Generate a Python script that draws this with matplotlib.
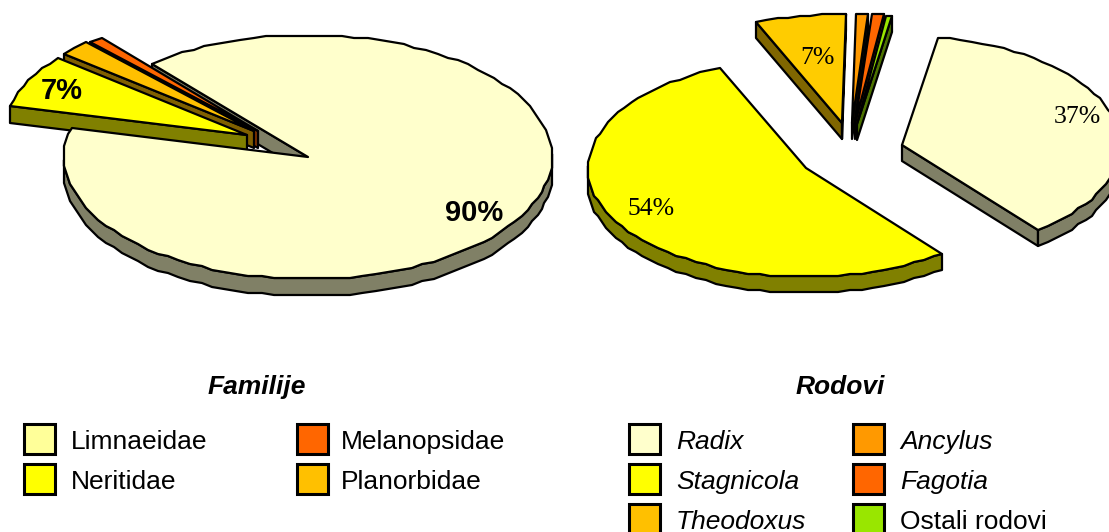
"""Two exploded 3D-look pies (Familije / Rodovi), drawn by hand in pixel coords."""
import matplotlib
matplotlib.use('Agg')
import matplotlib.pyplot as plt
import numpy as np
from matplotlib.patches import Polygon, Rectangle

W, H = 1109, 532

# --- data (percent, clockwise from the start angle) ---
fam_names = ['Limnaeidae', 'Neritidae', 'Planorbidae', 'Melanopsidae']
fam_values = [90, 7, 2, 1]
fam_colors = ['#FFFFCC', '#FFFF00', '#FFC000', '#FF6600']

gen_names = ['Radix', 'Stagnicola', 'Theodoxus', 'Ancylus', 'Fagotia', 'Ostali rodovi']
gen_values = [36.6, 54.3, 6.7, 0.95, 0.95, 0.5]
gen_colors = ['#FFFFCC', '#FFFF00', '#FFCC00', '#FF9900', '#FF6600', '#99E600']

# --- layout: slice apex positions in pixels ---
fam_centers = [(308, 157), (247, 135), (254, 131), (258, 131)]
gen_centers = [(902, 145), (806, 168), (842, 123), (852, 123), (855, 123), (857, 124)]

plt.rcParams['font.family'] = 'Liberation Sans'
fig = plt.figure(figsize=(W / 100, H / 100), dpi=100)
ax = fig.add_axes([0, 0, 1, 1])
ax.set_xlim(0, W)
ax.set_ylim(H, 0)
ax.axis('off')


def shade(hex_color):
    return tuple(c * 0.5 for c in matplotlib.colors.to_rgb(hex_color))


def rim(c, rx, ry, angles):
    t = np.radians(angles)
    pts = np.column_stack([c[0] + rx * np.cos(t), c[1] - ry * np.sin(t)])
    # the source arcs are rough: snap to a coarse pixel grid
    return np.round(pts / 2) * 2


def sweep(a1, a2, step=3.0):
    n = max(int(abs(a1 - a2) / step), 1) + 1
    return np.linspace(a1, a2, n)


def add_poly(pts, color):
    ax.add_patch(Polygon(pts, closed=True, facecolor=color, edgecolor='black',
                         linewidth=1.6, joinstyle='round'))


def draw_walls(c, rx, ry, depth, a1, a2, color):
    dark = shade(color)
    drop = np.array([0, depth])
    # radial cut faces that look towards the viewer
    for a, visible in ((a1, np.cos(np.radians(a1)) < 0), (a2, np.cos(np.radians(a2)) > 0)):
        if visible:
            p = rim(c, rx, ry, [a])[0]
            add_poly([p, c, c + drop, p + drop], dark)
    # outer wall, front half of the ellipse only
    ang = sweep(a1, a2)
    ang = ang[np.sin(np.radians(ang)) <= 0.02]
    if len(ang) > 1:
        top = rim(c, rx, ry, ang)
        add_poly(np.vstack([top, top[::-1] + drop]), dark)


def draw_top(c, rx, ry, a1, a2, color):
    add_poly(np.vstack([[c], rim(c, rx, ry, sweep(a1, a2))]), color)


def slice_angles(values, start):
    edges = start - np.cumsum([0] + list(values)) * 3.6
    return list(zip(edges[:-1], edges[1:]))


# --- left pie ---
fam_ang = slice_angles(fam_values, 130)
rx, ry, depth = 244, 122, 17
big_c = np.array(fam_centers[0], float)
draw_walls(big_c, rx, ry, depth, *fam_ang[0], fam_colors[0])
for i in [3, 2, 1]:
    c = np.array(fam_centers[i], float)
    draw_walls(c, rx, ry, depth, *fam_ang[i], fam_colors[i])
    draw_top(c, rx, ry, *fam_ang[i], fam_colors[i])
draw_top(big_c, rx, ry, *fam_ang[0], fam_colors[0])

# --- right pie ---
gen_ang = slice_angles(gen_values, 80.5)
rx, ry, depth = 218, 109, 16
for i in [2, 3, 4, 5, 1, 0]:
    c = np.array(gen_centers[i], float)
    draw_walls(c, rx, ry, depth, *gen_ang[i], gen_colors[i])
    draw_top(c, rx, ry, *gen_ang[i], gen_colors[i])

# --- percent labels ---
ax.text(62, 91, f'{fam_values[1]}%', fontsize=21, fontweight='bold', ha='center', va='center')
ax.text(474, 213, f'{fam_values[0]}%', fontsize=21, fontweight='bold', ha='center', va='center')
for x, y, v in [(1077, 117, gen_values[0]), (651, 209, gen_values[1]), (817, 58, gen_values[2])]:
    ax.text(x, y, f'{v:.0f}%', fontsize=18.5, family='Liberation Serif', ha='center', va='center')

# --- titles ---
ax.text(257, 387, 'Familije', fontsize=19, fontweight='bold', style='italic', ha='center', va='center')
ax.text(840, 387, 'Rodovi', fontsize=19, fontweight='bold', style='italic', ha='center', va='center')


# --- legends ---
def legend_item(x, y, label, color, italic, gap=47):
    ax.add_patch(Rectangle((x, y), 31, 30, facecolor=color, edgecolor='black', linewidth=2.2))
    ax.text(x + gap, y + 18, label, fontsize=19, style='italic' if italic else 'normal',
            ha='left', va='center')


legend_item(24, 424, fam_names[0], '#FFFF99', False)
legend_item(24, 464, fam_names[1], fam_colors[1], False)
legend_item(297, 424, fam_names[3], fam_colors[3], False, gap=44)
legend_item(297, 464, fam_names[2], fam_colors[2], False, gap=44)

legend_item(629, 424, gen_names[0], gen_colors[0], True)
legend_item(629, 464, gen_names[1], gen_colors[1], True)
legend_item(629, 504, gen_names[2], '#FFC000', True)
legend_item(853, 424, gen_names[3], gen_colors[3], True)
legend_item(853, 464, gen_names[4], gen_colors[4], True)
legend_item(853, 504, gen_names[5], gen_colors[5], False)

fig.savefig('out.png', dpi=100)
plt.close()
